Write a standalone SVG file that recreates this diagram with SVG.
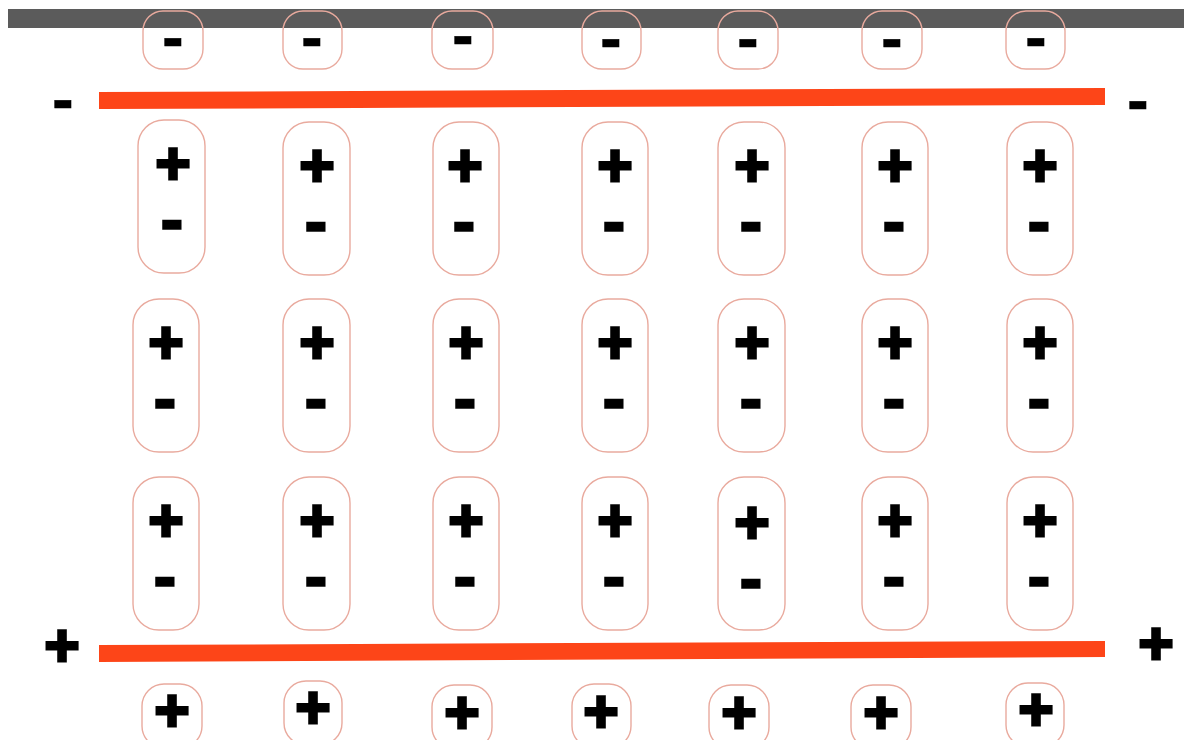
<svg xmlns="http://www.w3.org/2000/svg" width="1184" height="740" viewBox="0 0 1184 740">
<style>
.bx{fill:none;stroke:#e9aa9e;stroke-width:1.4}
.p{font-family:"Liberation Sans",Arial,sans-serif;font-weight:bold;font-size:60px;fill:#000;stroke:#000;stroke-width:3;text-anchor:middle}
.m{font-family:"Liberation Sans",Arial,sans-serif;font-weight:bold;font-size:70px;fill:#000;stroke:#000;stroke-width:1.5;text-anchor:middle}
.ms{font-family:"Liberation Sans",Arial,sans-serif;font-weight:bold;font-size:64px;fill:#000;stroke:#000;stroke-width:0.6;text-anchor:middle}
.plate{fill:#fd4518}
</style>
<rect width="1184" height="740" fill="#fff"/>
<rect x="8" y="9" width="1176" height="19" fill="#5b5b5b"/>
<g id="plate-top"><polygon class="plate" points="99,92 1105,88 1105,105 99,109"/></g>
<g id="plate-bottom"><polygon class="plate" points="99,645 1105,641 1105,657 99,662"/></g>
<g id="plate-labels">
<text class="ms" x="63" y="121">-</text>
<text class="ms" x="1138" y="122">-</text>
<text class="p" x="62" y="666">+</text>
<text class="p" x="1156" y="664">+</text>
</g>
<g id="top-charges">
<g id="t1"><rect class="bx" x="143" y="11" width="60" height="58" rx="20"/><text class="ms" x="173" y="59">-</text></g>
<g id="t2"><rect class="bx" x="283" y="11" width="59" height="58" rx="20"/><text class="ms" x="312" y="59">-</text></g>
<g id="t3"><rect class="bx" x="432" y="11" width="61" height="58" rx="20"/><text class="ms" x="463" y="57">-</text></g>
<g id="t4"><rect class="bx" x="582" y="11" width="59" height="58" rx="20"/><text class="ms" x="611" y="60">-</text></g>
<g id="t5"><rect class="bx" x="718" y="11" width="60" height="58" rx="20"/><text class="ms" x="748" y="60">-</text></g>
<g id="t6"><rect class="bx" x="862" y="11" width="60" height="58" rx="20"/><text class="ms" x="892" y="60">-</text></g>
<g id="t7"><rect class="bx" x="1006" y="11" width="59" height="58" rx="20"/><text class="ms" x="1036" y="59">-</text></g>
</g>
<g id="dipoles-row1">
<g id="d11"><rect class="bx" x="138" y="120" width="67" height="153" rx="26"/><text class="p" x="173" y="184">+</text><text class="m" x="172" y="243">-</text></g>
<g id="d12"><rect class="bx" x="283" y="122" width="67" height="153" rx="26"/><text class="p" x="317" y="186">+</text><text class="m" x="316" y="245">-</text></g>
<g id="d13"><rect class="bx" x="433" y="122" width="66" height="153" rx="26"/><text class="p" x="465" y="186">+</text><text class="m" x="464" y="245">-</text></g>
<g id="d14"><rect class="bx" x="582" y="122" width="66" height="153" rx="26"/><text class="p" x="615" y="186">+</text><text class="m" x="614" y="245">-</text></g>
<g id="d15"><rect class="bx" x="718" y="122" width="67" height="153" rx="26"/><text class="p" x="752" y="186">+</text><text class="m" x="751" y="245">-</text></g>
<g id="d16"><rect class="bx" x="862" y="122" width="66" height="153" rx="26"/><text class="p" x="895" y="186">+</text><text class="m" x="894" y="245">-</text></g>
<g id="d17"><rect class="bx" x="1007" y="122" width="66" height="153" rx="26"/><text class="p" x="1040" y="186">+</text><text class="m" x="1039" y="245">-</text></g>
</g>
<g id="dipoles-row2">
<g id="d21"><rect class="bx" x="133" y="299" width="66" height="153" rx="26"/><text class="p" x="166" y="363">+</text><text class="m" x="165" y="422">-</text></g>
<g id="d22"><rect class="bx" x="283" y="299" width="67" height="153" rx="26"/><text class="p" x="317" y="363">+</text><text class="m" x="316" y="422">-</text></g>
<g id="d23"><rect class="bx" x="433" y="299" width="66" height="153" rx="26"/><text class="p" x="466" y="363">+</text><text class="m" x="465" y="422">-</text></g>
<g id="d24"><rect class="bx" x="582" y="299" width="66" height="153" rx="26"/><text class="p" x="615" y="363">+</text><text class="m" x="614" y="422">-</text></g>
<g id="d25"><rect class="bx" x="718" y="299" width="67" height="153" rx="26"/><text class="p" x="752" y="363">+</text><text class="m" x="751" y="422">-</text></g>
<g id="d26"><rect class="bx" x="862" y="299" width="66" height="153" rx="26"/><text class="p" x="895" y="363">+</text><text class="m" x="894" y="422">-</text></g>
<g id="d27"><rect class="bx" x="1007" y="299" width="66" height="153" rx="26"/><text class="p" x="1040" y="363">+</text><text class="m" x="1039" y="422">-</text></g>
</g>
<g id="dipoles-row3">
<g id="d31"><rect class="bx" x="133" y="477" width="66" height="153" rx="26"/><text class="p" x="166" y="541">+</text><text class="m" x="165" y="600">-</text></g>
<g id="d32"><rect class="bx" x="283" y="477" width="67" height="153" rx="26"/><text class="p" x="317" y="541">+</text><text class="m" x="316" y="600">-</text></g>
<g id="d33"><rect class="bx" x="433" y="477" width="66" height="153" rx="26"/><text class="p" x="466" y="541">+</text><text class="m" x="465" y="600">-</text></g>
<g id="d34"><rect class="bx" x="582" y="477" width="66" height="153" rx="26"/><text class="p" x="615" y="541">+</text><text class="m" x="614" y="600">-</text></g>
<g id="d35"><rect class="bx" x="718" y="477" width="67" height="153" rx="26"/><text class="p" x="752" y="543">+</text><text class="m" x="751" y="602">-</text></g>
<g id="d36"><rect class="bx" x="862" y="477" width="66" height="153" rx="26"/><text class="p" x="895" y="541">+</text><text class="m" x="894" y="600">-</text></g>
<g id="d37"><rect class="bx" x="1007" y="477" width="66" height="153" rx="26"/><text class="p" x="1040" y="541">+</text><text class="m" x="1039" y="600">-</text></g>
</g>
<g id="bottom-charges">
<g id="b1"><rect class="bx" x="142" y="684" width="60" height="64" rx="22"/><text class="p" x="172" y="731">+</text></g>
<g id="b2"><rect class="bx" x="284" y="681" width="58" height="64" rx="22"/><text class="p" x="313" y="728">+</text></g>
<g id="b3"><rect class="bx" x="432" y="685" width="60" height="64" rx="22"/><text class="p" x="462" y="733">+</text></g>
<g id="b4"><rect class="bx" x="572" y="684" width="59" height="64" rx="22"/><text class="p" x="601" y="732">+</text></g>
<g id="b5"><rect class="bx" x="709" y="685" width="60" height="64" rx="22"/><text class="p" x="739" y="733">+</text></g>
<g id="b6"><rect class="bx" x="851" y="685" width="60" height="64" rx="22"/><text class="p" x="881" y="733">+</text></g>
<g id="b7"><rect class="bx" x="1006" y="683" width="58" height="64" rx="22"/><text class="p" x="1036" y="730">+</text></g>
</g>
</svg>
